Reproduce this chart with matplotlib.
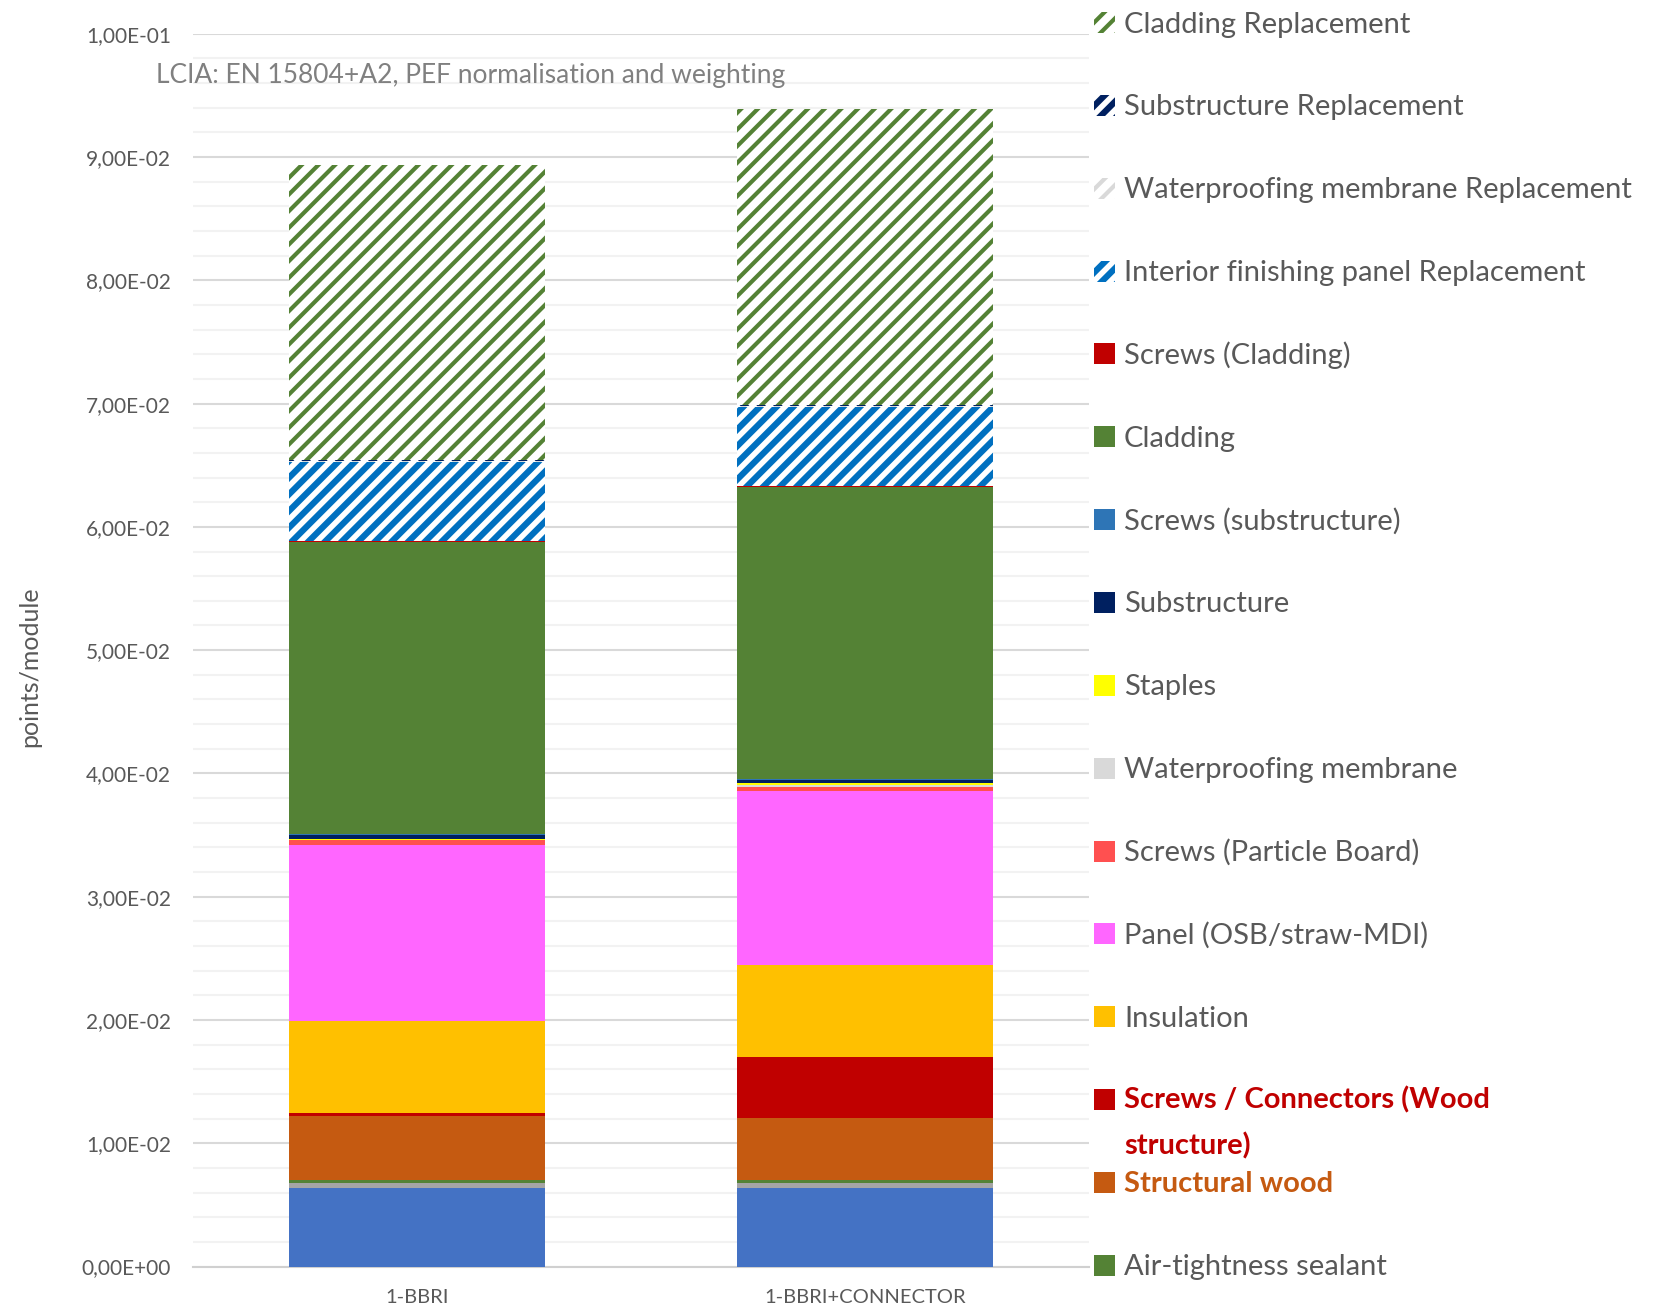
import numpy as np
import matplotlib
matplotlib.use("Agg")
import matplotlib.pyplot as plt
from matplotlib.patches import Rectangle
from matplotlib.ticker import MultipleLocator, FuncFormatter

plt.rcParams['font.family'] = ['Lato', 'DejaVu Sans']

# categories and stacked components (bottom -> top)
categories = ['1-BBRI', '1-BBRI+CONNECTOR']

series_names = [
    '_base',                      # blue base layer, not in the visible legend
    '_grey',                      # grey thin layer, not in the visible legend
    'Air-tightness sealant',
    'Structural wood',
    'Screws / Connectors (Wood\nstructure)',
    'Insulation',
    'Panel (OSB/straw-MDI)',
    'Screws (Particle Board)',
    'Waterproofing membrane',
    'Staples',
    'Substructure',
    'Screws (substructure)',
    'Cladding',
    'Screws (Cladding)',
    'Interior finishing panel Replacement',
    'Waterproofing membrane Replacement',
    'Substructure Replacement',
    'Cladding Replacement',
]

base_layer        = [0.00635, 0.00635]
grey_layer        = [0.00040, 0.00040]
air_tightness     = [0.00024, 0.00024]
structural_wood   = [0.00525, 0.00509]
screws_connectors = [0.00024, 0.00489]
insulation        = [0.00746, 0.00752]
panel             = [0.01428, 0.01406]
screws_pb         = [0.00035, 0.00038]
waterproofing     = [0.00005, 0.00012]
staples           = [0.00010, 0.00015]
substructure      = [0.00028, 0.00024]
screws_sub        = [0.00010, 0.00013]
cladding          = [0.02366, 0.02366]
screws_cladding   = [0.00012, 0.00010]
ifp_repl          = [0.00640, 0.00640]
waterproof_repl   = [0.00005, 0.00005]
substructure_repl = [0.00010, 0.00010]
cladding_repl     = [0.02390, 0.02400]

values = [base_layer, grey_layer, air_tightness, structural_wood, screws_connectors,
          insulation, panel, screws_pb, waterproofing, staples, substructure,
          screws_sub, cladding, screws_cladding, ifp_repl, waterproof_repl,
          substructure_repl, cladding_repl]

# styles
colors = ['#4472c4', '#a5a5a5', '#548235', '#c55a11', '#c00000', '#ffc000',
          '#ff66ff', '#ff5050', '#d9d9d9', '#ffff00', '#002060', '#2e75b6',
          '#548235', '#c00000', '#0070c0', '#d9d9d9', '#002060', '#548235']
hatched = [False] * 14 + [True] * 4
hatch_lw = {14: 4.5, 15: 3.0, 16: 4.5, 17: 3.0}

text_grey = '#595959'

fig = plt.figure(figsize=(16.54, 13.07), dpi=100)
W, H = 1654, 1307
ax = fig.add_axes([193 / W, (H - 1266.5) / H, 896 / W, 1232.7 / H])

x = np.arange(len(categories))
bottom = np.zeros(len(categories))
for i, (name, vals) in enumerate(zip(series_names, values)):
    vals = np.array(vals)
    if hatched[i]:
        plt.rcParams['hatch.linewidth'] = hatch_lw[i]
        ax.bar(x, vals, 0.571, bottom=bottom, facecolor='white',
               edgecolor=colors[i], hatch='//', linewidth=0, zorder=3)
    else:
        ax.bar(x, vals, 0.571, bottom=bottom, color=colors[i],
               linewidth=0, zorder=3)
    bottom += vals

ax.set_xlim(-0.5, 1.5)
ax.set_ylim(0, 0.1)
ax.yaxis.set_major_locator(MultipleLocator(0.01))
ax.yaxis.set_minor_locator(MultipleLocator(0.002))
ax.yaxis.set_major_formatter(FuncFormatter(lambda v, p: ('%.2E' % v).replace('.', ',')))
ax.grid(which='major', axis='y', color='#d9d9d9', linewidth=1.5, zorder=0)
ax.grid(which='minor', axis='y', color='#f2f2f2', linewidth=1.5, zorder=0)
ax.set_axisbelow(True)
for s in ['top', 'right', 'left']:
    ax.spines[s].set_visible(False)
ax.spines['bottom'].set_color('#d0d0d0')
ax.spines['bottom'].set_linewidth(1.5)
ax.tick_params(axis='y', which='both', length=0, pad=16, labelsize=15, labelcolor=text_grey)
ax.tick_params(axis='x', length=0, pad=16, labelsize=14.5, labelcolor=text_grey)
ax.set_xticks(x)
ax.set_xticklabels(categories)

fig.text(29.5 / W, 1 - 667 / H, 'points/module', rotation=90, ha='center', va='center',
         fontsize=18, color=text_grey)
fig.text(156 / W, 1 - 76 / H, 'LCIA: EN 15804+A2, PEF normalisation and weighting',
         ha='left', va='center', fontsize=19, color='#808080')

# legend, drawn top to bottom in reverse stacking order
legend_idx = list(range(len(series_names) - 1, 1, -1))
label_style = {4: ('#c00000', 'bold'), 3: ('#c55a11', 'bold')}
for row, i in enumerate(legend_idx):
    yc = 22.5 + row * 82.85
    if hatched[i]:
        plt.rcParams['hatch.linewidth'] = hatch_lw[i]
        patch = Rectangle((1094 / W, 1 - (yc + 10.5) / H), 21 / W, 21 / H,
                          transform=fig.transFigure, facecolor='white',
                          edgecolor=colors[i], hatch='//', linewidth=0)
    else:
        patch = Rectangle((1094 / W, 1 - (yc + 10.5) / H), 21 / W, 21 / H,
                          transform=fig.transFigure, facecolor=colors[i], linewidth=0)
    fig.add_artist(patch)
    tcol, tw = label_style.get(i, (text_grey, 'normal'))
    n_extra = series_names[i].count('\n')
    base_off = 10 if n_extra == 0 else 7
    fig.text(1124 / W, 1 - (yc + base_off + 48 * n_extra) / H, series_names[i], ha='left',
             va='baseline', fontsize=21, color=tcol, fontweight=tw, linespacing=1.85)

plt.rcParams['hatch.linewidth'] = 3.0
fig.savefig('out.png', dpi=100)
